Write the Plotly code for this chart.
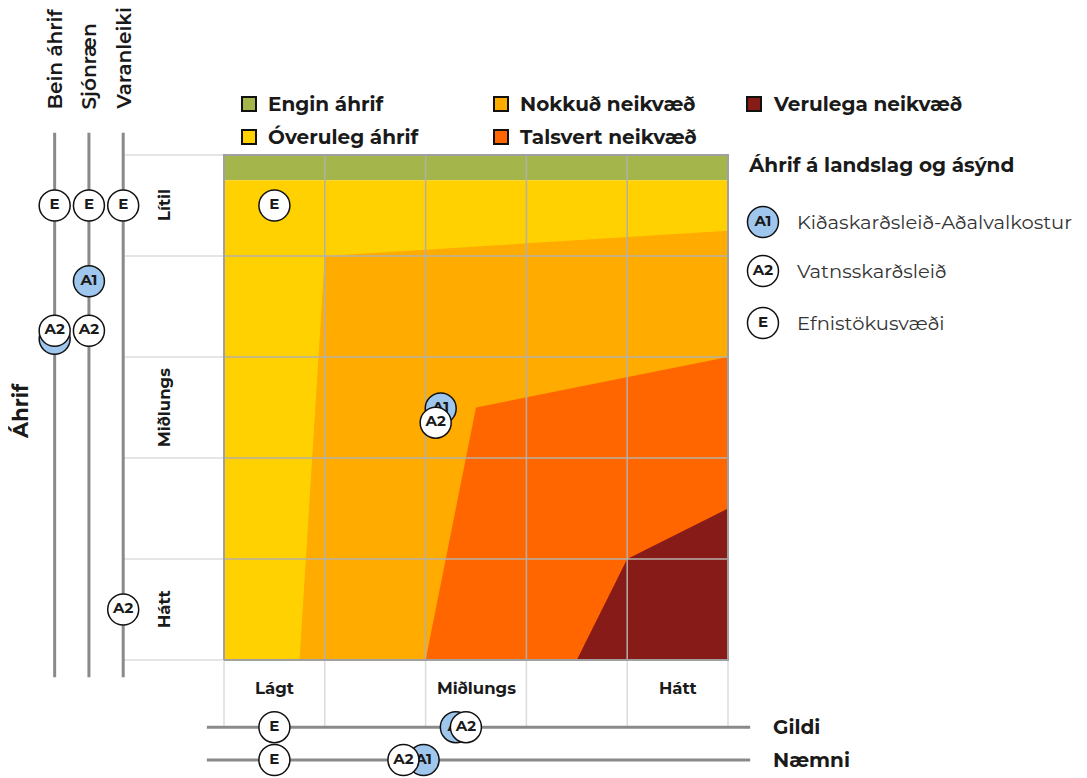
import plotly.graph_objects as go

# zones of the impact matrix, grid units 0..5 (x: Gildi/Næmni, y: Áhrif)
zone_names = ["Engin áhrif", "Óveruleg áhrif", "Nokkuð neikvæð", "Talsvert neikvæð", "Verulega neikvæð"]
zone_colors = ["#a3b54b", "#ffd100", "#ffab00", "#ff6600", "#861b18"]
zone_x = [[0, 5, 5, 0], [0, 5, 5, 0], [0.75, 1, 5, 5], [2, 2.5, 5, 5], [3.5, 4, 5, 5]]
zone_y = [[4.75, 4.75, 5, 5], [0, 0, 4.75, 4.75], [0, 4, 4.25, 0], [0, 2.5, 3, 0], [0, 1, 1.5, 0]]

row_labels = ["Hátt", "Miðlungs", "Lítil"]
col_labels = ["Lágt", "Miðlungs", "Hátt"]
side_axes = ["Bein áhrif", "Sjónræn", "Varanleiki"]
bottom_axes = ["Gildi", "Næmni"]

options = ["A1", "A2", "E"]
option_names = ["Kiðaskarðsleið-Aðalvalkostur", "Vatnsskarðsleið", "Efnistökusvæði"]
option_fill = ["#9fc6ec", "white", "white"]

# placement in the matrix
matrix_x = [2.15, 2.10, 0.5]
matrix_y = [2.49, 2.35, 4.5]
# values on Bein áhrif / Sjónræn / Varanleiki
side_a1 = [3.18, 3.75, None]
side_a2 = [3.26, 3.26, 0.5]
side_e = [4.5, 4.5, 4.5]
# values on Gildi / Næmni
bottom_a1 = [2.30, 1.98]
bottom_a2 = [2.40, 1.78]
bottom_e = [0.5, 0.5]

FONT = "Montserrat, Inter, sans-serif"
TXT = "#1a1a1a"
side_x = [-1.68, -1.34, -1.0]
bottom_y = [-0.665, -0.99]

# page has an 8px body margin, so the figure starts at (8, 8)
W, H = 1079, 770
PX, PY = 100.8, 101.0
X0 = -(224 - 8) / PX
Y1 = (660 - 8) / PY

fig = go.Figure()

for name, col, xs, ys in zip(zone_names, zone_colors, zone_x, zone_y):
    fig.add_trace(go.Scatter(x=xs, y=ys, fill="toself", fillcolor=col, mode="none",
                             hoverinfo="skip", name=name))


def seg_trace(xs, ys, color, width):
    fig.add_trace(go.Scatter(x=xs, y=ys, mode="lines", line=dict(color=color, width=width),
                             hoverinfo="skip"))


# extended light grid (label cells)
gx, gy = [], []
for v in range(6):
    gx += [side_x[2], 0, None]
    gy += [v, v, None]
    gx += [v, v, None]
    gy += [0, bottom_y[0], None]
seg_trace(gx, gy, "#dcdcdc", 1.5)

# grid inside matrix
gx, gy = [], []
for v in range(1, 5):
    gx += [0, 5, None, v, v, None]
    gy += [v, v, None, 0, 5, None]
seg_trace(gx, gy, "#b4b0a8", 1.5)
seg_trace([0, 5, 5, 0, 0], [0, 0, 5, 5, 0], "#a0a0a0", 2)

# side and bottom scales
gx, gy = [], []
for sx in side_x:
    gx += [sx, sx, None]
    gy += [-0.17, 5.22, None]
for by in bottom_y:
    gx += [-0.17, 5.22, None]
    gy += [by, by, None]
seg_trace(gx, gy, "#8a8a8a", 3)

# markers
side_vals = [side_a1, side_a2, side_e]
bottom_vals = [bottom_a1, bottom_a2, bottom_e]
for i, opt in enumerate(options):
    xs = [matrix_x[i]]
    ys = [matrix_y[i]]
    for sx, v in zip(side_x, side_vals[i]):
        if v is not None:
            xs.append(sx)
            ys.append(v)
    for by, v in zip(bottom_y, bottom_vals[i]):
        xs.append(v)
        ys.append(by)
    fig.add_trace(go.Scatter(
        x=xs, y=ys, mode="markers+text", text=[opt] * len(xs), textposition="middle center",
        textfont=dict(family=FONT, size=15, color=TXT, weight="bold"),
        marker=dict(size=31, color=option_fill[i], line=dict(color="#111", width=1.5)),
        hoverinfo="skip"))

# right legend
leg_x = 5.347
leg_y = [4.337, 3.851, 3.337]
fig.add_trace(go.Scatter(
    x=[leg_x] * 3, y=leg_y, mode="markers+text", text=options, textposition="middle center",
    textfont=dict(family=FONT, size=15, color=TXT, weight="bold"),
    marker=dict(size=31, color=option_fill, line=dict(color="#111", width=1.5)),
    hoverinfo="skip"))
for name, y in zip(option_names, leg_y):
    fig.add_annotation(x=5.66, y=y, text=name, showarrow=False, xanchor="left",
                       font=dict(family=FONT, size=19.5, color="#333"))
fig.add_annotation(x=5.18, y=4.9, text="Áhrif á landslag og ásýnd", showarrow=False,
                   xanchor="left", font=dict(family=FONT, size=20, color=TXT, weight="bold"))

# top legend (zones)
top_pos = [(0.248, 5.505), (0.248, 5.178), (2.748, 5.505), (2.748, 5.178), (5.258, 5.505)]
fig.add_trace(go.Scatter(
    x=[p[0] for p in top_pos], y=[p[1] for p in top_pos], mode="markers",
    marker=dict(symbol="square", size=14, color=zone_colors, line=dict(color="#111", width=2)),
    hoverinfo="skip"))
for name, p in zip(zone_names, top_pos):
    fig.add_annotation(x=p[0] + 0.165, y=p[1], text=name, showarrow=False, xanchor="left",
                       font=dict(family=FONT, size=20, color=TXT, weight="bold"))

# axis labels
for lab, y in zip(row_labels, [0.5, 2.5, 4.5]):
    fig.add_annotation(x=-0.6, y=y, text=lab, showarrow=False, textangle=-90,
                       font=dict(family=FONT, size=16.5, color=TXT, weight="bold"))
for lab, x in zip(col_labels, [0.5, 2.5, 4.5]):
    fig.add_annotation(x=x, y=-0.28, text=lab, showarrow=False,
                       font=dict(family=FONT, size=16.5, color=TXT, weight="bold"))
for lab, sx in zip(side_axes, side_x):
    fig.add_annotation(x=sx, y=5.43, text=lab, showarrow=False, textangle=-90, yanchor="bottom",
                       font=dict(family=FONT, size=20, color=TXT, weight=600))
for lab, by in zip(bottom_axes, bottom_y):
    fig.add_annotation(x=5.43, y=by, text=lab, showarrow=False, xanchor="left",
                       font=dict(family=FONT, size=20, color=TXT, weight="bold"))
fig.add_annotation(x=-2.02, y=2.47, text="Áhrif", showarrow=False, textangle=-90,
                   font=dict(family=FONT, size=21, color=TXT, weight="bold"))

fig.update_layout(
    width=W, height=H, margin=dict(l=0, r=0, t=0, b=0),
    paper_bgcolor="white", plot_bgcolor="white", showlegend=False,
    xaxis=dict(range=[X0, X0 + W / PX], visible=False, fixedrange=True),
    yaxis=dict(range=[Y1 - H / PY, Y1], visible=False, fixedrange=True),
)

fig.write_html("out.html")
